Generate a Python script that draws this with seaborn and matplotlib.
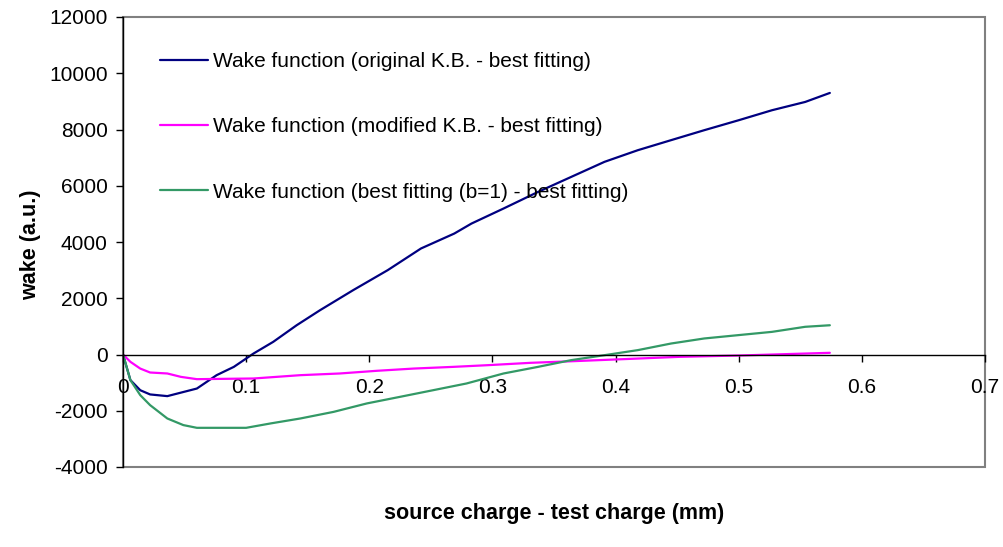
import numpy as np
import pandas as pd
import matplotlib
matplotlib.use("Agg")
import matplotlib.pyplot as plt
import seaborn as sns
from matplotlib.patches import Rectangle

# ---- data ----
series_names = [
    "Wake function (original K.B. - best fitting)",
    "Wake function (modified K.B. - best fitting)",
    "Wake function (best fitting (b=1) - best fitting)",
]

x_orig = [0.0, 0.006, 0.014, 0.022, 0.036, 0.06, 0.076, 0.09, 0.106, 0.122, 0.141,
          0.160, 0.187, 0.215, 0.242, 0.269, 0.283, 0.309, 0.337, 0.364, 0.391,
          0.418, 0.445, 0.472, 0.500, 0.527, 0.554, 0.574]
y_orig = [0, -910, -1270, -1420, -1480, -1210, -735, -440, 35, 450, 1040,
          1575, 2290, 3000, 3770, 4300, 4656, 5190, 5780, 6315, 6850,
          7263, 7620, 7975, 8330, 8685, 8980, 9300]

x_mod = [0.0, 0.006, 0.014, 0.022, 0.036, 0.047, 0.06, 0.106, 0.144, 0.176, 0.206,
         0.236, 0.268, 0.296, 0.331, 0.366, 0.406, 0.452, 0.501, 0.555, 0.574]
y_mod = [0, -260, -500, -640, -675, -795, -877, -853, -735, -675, -580,
         -500, -440, -380, -296, -237, -166, -83, -35, 35, 60]

x_b1 = [0.0, 0.006, 0.014, 0.022, 0.036, 0.049, 0.06, 0.10, 0.12, 0.144, 0.171,
        0.198, 0.225, 0.252, 0.279, 0.309, 0.337, 0.364, 0.391, 0.418, 0.445,
        0.472, 0.500, 0.527, 0.554, 0.574]
y_b1 = [0, -910, -1445, -1800, -2275, -2510, -2607, -2607, -2450, -2275, -2040,
        -1740, -1505, -1268, -1030, -675, -440, -200, -24, 155, 390,
        570, 690, 805, 985, 1040]

x_ticks = [0, 0.1, 0.2, 0.3, 0.4, 0.5, 0.6, 0.7]
y_ticks = [-4000, -2000, 0, 2000, 4000, 6000, 8000, 10000, 12000]
x_tick_labels = ["0", "0.1", "0.2", "0.3", "0.4", "0.5", "0.6", "0.7"]
y_tick_labels = ["-4000", "-2000", "0", "2000", "4000", "6000", "8000", "10000", "12000"]

colors = ["#000080", "#FF00FF", "#339966"]

df = pd.concat([
    pd.DataFrame({"x": x_orig, "y": y_orig, "series": series_names[0]}),
    pd.DataFrame({"x": x_mod, "y": y_mod, "series": series_names[1]}),
    pd.DataFrame({"x": x_b1, "y": y_b1, "series": series_names[2]}),
], ignore_index=True)

sns.set_style("white")
plt.rcParams["font.family"] = ["Liberation Sans", "DejaVu Sans"]
plt.rcParams["text.color"] = "black"
plt.rcParams["axes.labelcolor"] = "black"
plt.rcParams["xtick.color"] = "black"
plt.rcParams["ytick.color"] = "black"

FS = 15

fig = plt.figure(figsize=(10.04, 5.47), dpi=100)
ax = fig.add_axes([123 / 1004, 1 - 467 / 547, 862 / 1004, 450 / 547])

sns.lineplot(data=df, x="x", y="y", hue="series", hue_order=series_names,
             palette=colors, sort=False, estimator=None, linewidth=1.6, ax=ax)

ax.set_xlim(0, 0.7)
ax.set_ylim(-4000, 12000)
ax.set_xticks(x_ticks)
ax.set_xticklabels(x_tick_labels)
ax.set_yticks(y_ticks)
ax.set_yticklabels(y_tick_labels)

# spines: left black, bottom through zero, frame gray
for s in ["top", "right"]:
    ax.spines[s].set_visible(False)
ax.spines["left"].set_color("black")
ax.spines["left"].set_linewidth(1.0)
ax.spines["bottom"].set_position(("data", 0))
ax.spines["bottom"].set_color("black")
ax.spines["bottom"].set_linewidth(1.0)
ax.add_patch(Rectangle((0, 0), 1, 1, transform=ax.transAxes, fill=False,
                       edgecolor="#808080", linewidth=1.5, zorder=0.5, clip_on=False))

ax.tick_params(axis="both", which="major", direction="out", length=5, width=1,
               color="black", labelsize=FS, labelcolor="black",
               left=True, bottom=True)
ax.tick_params(axis="x", pad=12)
ax.tick_params(axis="y", pad=6)

ax.set_xlabel("source charge - test charge (mm)", fontsize=15.5, fontweight="bold",
              labelpad=0, color="black")
ax.xaxis.set_label_coords(0.5, -0.08)
ax.set_ylabel("wake (a.u.)", fontsize=15.5, fontweight="bold", color="black")
ax.yaxis.set_label_coords(-0.095, 0.495)

leg = ax.legend(loc="upper left", bbox_to_anchor=(0.043, 0.922), frameon=False,
                fontsize=FS, handlelength=2.3, handletextpad=0.25,
                labelspacing=2.22, borderpad=0, borderaxespad=0)
for line in leg.get_lines():
    line.set_linewidth(1.6)
for t in leg.get_texts():
    t.set_color("black")

fig.savefig("out.png", dpi=100, facecolor="white")
